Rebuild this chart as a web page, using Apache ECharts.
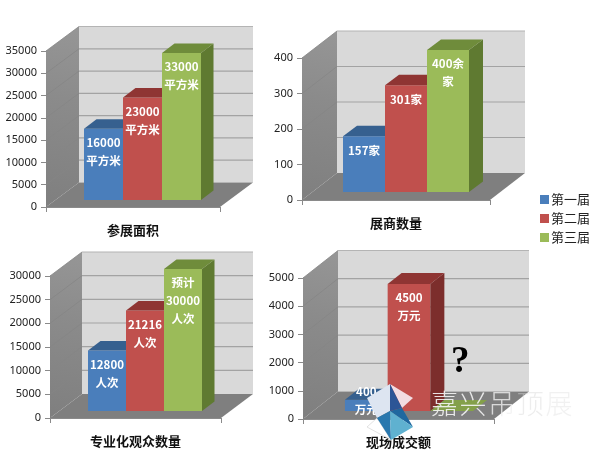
<!DOCTYPE html>
<html><head><meta charset="utf-8">
<style>html,body{margin:0;padding:0;background:#fff}#c{width:600px;height:455px}</style>
<script src="https://cdn.jsdelivr.net/npm/echarts@6/dist/echarts.min.js"></script>
</head><body><div id="c"></div>
<script>
const editions = ['第一届','第二届','第三届'];
const panelNames = ['参展面积','展商数量','专业化观众数量','现场成交额'];
const areaValues = [16000,23000,33000];
const exhibitorValues = [157,301,400];
const audienceValues = [12800,21216,30000];
const dealValues = [400,4500,0];
const areaLabels = ['16000\n平方米','23000\n平方米','33000\n平方米'];
const exhibitorLabels = ['157家','301家','400余\n家'];
const audienceLabels = ['12800\n人次','21216\n人次','预计\n30000\n人次'];
const dealLabels = ['400\n万元','4500\n万元',''];
const axisMax = [35000,400,30000,5000];
const axisStep = [5000,100,5000,1000];

const frame = [
 {l:46,r:220,t:51,b:207,dx:33,dy:-24.5,sx:9.5,sy:-7,w:39,bx:12.5,by:-9.5},
 {l:302,r:490,t:58,b:200,dx:35,dy:-27,sx:10,sy:-8,w:42,bx:14,by:-10.5},
 {l:50,r:221,t:276,b:418,dx:32,dy:-24,sx:9.5,sy:-7,w:38,bx:12.5,by:-9.5},
 {l:303,r:494,t:278,b:419,dx:35,dy:-27.5,sx:10.5,sy:-8,w:42.7,bx:14,by:-11}
];
const colors = [
 {front:'#4a7ebb',top:'#36608f',side:'#2f5580'},
 {front:'#c0504d',top:'#8f3533',side:'#7c2e2c'},
 {front:'#9bbb59',top:'#6f8c3b',side:'#5f7a31'}
];
const values = [areaValues,exhibitorValues,audienceValues,dealValues];
const labels = [areaLabels,exhibitorLabels,audienceLabels,dealLabels];
const cjk = '"Noto Sans CJK SC","Noto Sans",sans-serif';

function poly(points, style){return {type:'polygon',shape:{points},style};}
function line(a,b,stroke,lw){return {type:'line',shape:{x1:a[0],y1:a[1],x2:b[0],y2:b[1]},style:{stroke,lineWidth:lw||1}};}

function wallRender(p){
  return function(params,api){
    const f=frame[p], o=api.coord([0,0]), w=api.size([1,0])[0];
    const x0=o[0]-w/2, y0=o[1], x1=x0+w, yTop=api.coord([0,axisMax[p]])[1];
    const d=[f.dx,f.dy], kids=[];
    kids.push(poly([[x0,y0],[x0+d[0],y0+d[1]],[x0+d[0],yTop+d[1]],[x0,yTop]],{fill:new echarts.graphic.LinearGradient(0,1,1,0,[{offset:0,color:'#7f7f7f'},{offset:.6,color:'#8b8b8b'},{offset:1,color:'#969696'}])}));
    kids.push({type:'rect',shape:{x:x0+d[0],y:yTop+d[1],width:w,height:y0-yTop},style:{fill:'#d9d9d9'}});
    kids.push(poly([[x0,y0],[x0+d[0],y0+d[1]],[x1+d[0],y0+d[1]],[x1,y0]],{fill:'#7f7f7f'}));
    for(let v=axisStep[p];v<=axisMax[p];v+=axisStep[p]){
      const y=api.coord([0,v])[1];
      kids.push(line([x0,y],[x0+d[0],y+d[1]],'#858585',.8));
      kids.push(line([x0+d[0],y+d[1]],[x1+d[0],y+d[1]],v===axisMax[p]?'#b4b4b4':'#a3a3a3',1.2));
    }
    return {type:'group',children:kids};
  };
}
function barRender(p,i){
  return function(params,api){
    const f=frame[p], c=colors[i], v=api.value(1);
    const o=api.coord([0,0]), t=api.coord([0,v]);
    const left=o[0]+f.sx+(i-1.5)*f.w, right=left+f.w;
    const base=o[1]+f.sy, top=t[1]+f.sy, bx=f.bx, by=f.by, kids=[];
    if(base-top>0.5) kids.push({type:'rect',shape:{x:left,y:top,width:f.w,height:base-top},style:{fill:c.front}});
    if(base-top>0.5) kids.push(poly([[right,top],[right+bx,top+by],[right+bx,base+by],[right,base]],{fill:c.side}));
    kids.push(poly([[left,top],[left+bx,top+by],[right+bx,top+by],[right,top]],{fill:base-top>0.5?c.top:'#84a04a'}));
    const txt=labels[p][i];
    if(txt) kids.push({type:'text',style:{text:txt,x:left+f.w/2,y:Math.min(top+5,base-28),align:'center',verticalAlign:'top',fill:'#fff',font:'bold 11.5px '+cjk,lineHeight:18}});
    return {type:'group',children:kids};
  };
}

const grids=[],xAxes=[],yAxes=[],series=[];
frame.forEach((f,p)=>{
  grids.push({left:f.l,top:f.t,width:f.r-f.l,height:f.b-f.t});
  xAxes.push({type:'category',gridIndex:p,data:[panelNames[p]],
    axisLine:{lineStyle:{color:'#8a8a8a'}},axisTick:{show:true,length:5,lineStyle:{color:'#8a8a8a'}},
    axisLabel:{margin:17,color:'#111',fontSize:13,fontWeight:'bold',fontFamily:cjk}});
  yAxes.push({type:'value',gridIndex:p,min:0,max:axisMax[p],interval:axisStep[p],
    axisLine:{show:true,lineStyle:{color:'#8a8a8a'}},axisTick:{show:true,length:5,lineStyle:{color:'#8a8a8a'}},
    splitLine:{show:false},axisLabel:{margin:9,color:'#222',fontSize:11,fontFamily:'"Noto Sans",sans-serif',formatter:v=>String(v)}});
  series.push({type:'custom',xAxisIndex:p,yAxisIndex:p,z:1,clip:false,silent:true,data:[[0,0]],renderItem:wallRender(p),encode:{x:0,y:1}});
  editions.forEach((name,i)=>{
    series.push({type:'custom',name,xAxisIndex:p,yAxisIndex:p,z:2+i,clip:false,
      itemStyle:{color:colors[i].front},data:[[0,values[p][i]]],renderItem:barRender(p,i),encode:{x:0,y:1}});
  });
});

const logo=[
 {pts:[[367,427],[377,418],[391,440]],fill:'rgba(255,255,255,.95)',stroke:'#cfcfcf'},
 {pts:[[390,384],[413,398],[402,408]],fill:'#f2dce2'},
 {pts:[[390,384],[402,408],[390,411]],fill:'#2c5596'},
 {pts:[[390,384],[367,398],[377,418],[390,411]],fill:'#dde5f1'},
 {pts:[[377,418],[390,411],[391,440]],fill:'#2a78ae'},
 {pts:[[390,411],[402,408],[413,427]],fill:'#1f689f'},
 {pts:[[390,411],[413,427],[391,440]],fill:'#5fb1d0'}
];
const watermark=[['嘉','rgba(245,245,245,.9)'],['兴','rgba(245,245,245,.9)'],['吊','rgba(240,240,240,.8)'],['顶','rgba(215,215,215,.45)'],['展','rgba(215,215,215,.35)']];
const graphic=[];
logo.forEach(s=>graphic.push({type:'polygon',z:50,shape:{points:s.pts},style:{fill:s.fill,stroke:s.stroke||null,lineWidth:.6}}));
watermark.forEach((w,k)=>graphic.push({type:'text',z:51,left:431+k*28.6,top:390,style:{text:w[0],fill:w[1],font:'300 27px '+cjk}}));
graphic.push({type:'text',z:51,left:451,top:344,style:{text:'?',fill:'#000',font:'bold 37px "Liberation Serif",serif'}});

echarts.init(document.getElementById('c'),null,{renderer:'canvas'}).setOption({
  animation:false,backgroundColor:'#fff',
  grid:grids,xAxis:xAxes,yAxis:yAxes,series,graphic,
  legend:{data:editions,orient:'vertical',left:535,top:188,itemWidth:9,itemHeight:9,itemGap:6,icon:'rect',
    textStyle:{fontFamily:cjk,fontSize:13,color:'#222',padding:[0,0,0,-3]}}
});
</script></body></html>
